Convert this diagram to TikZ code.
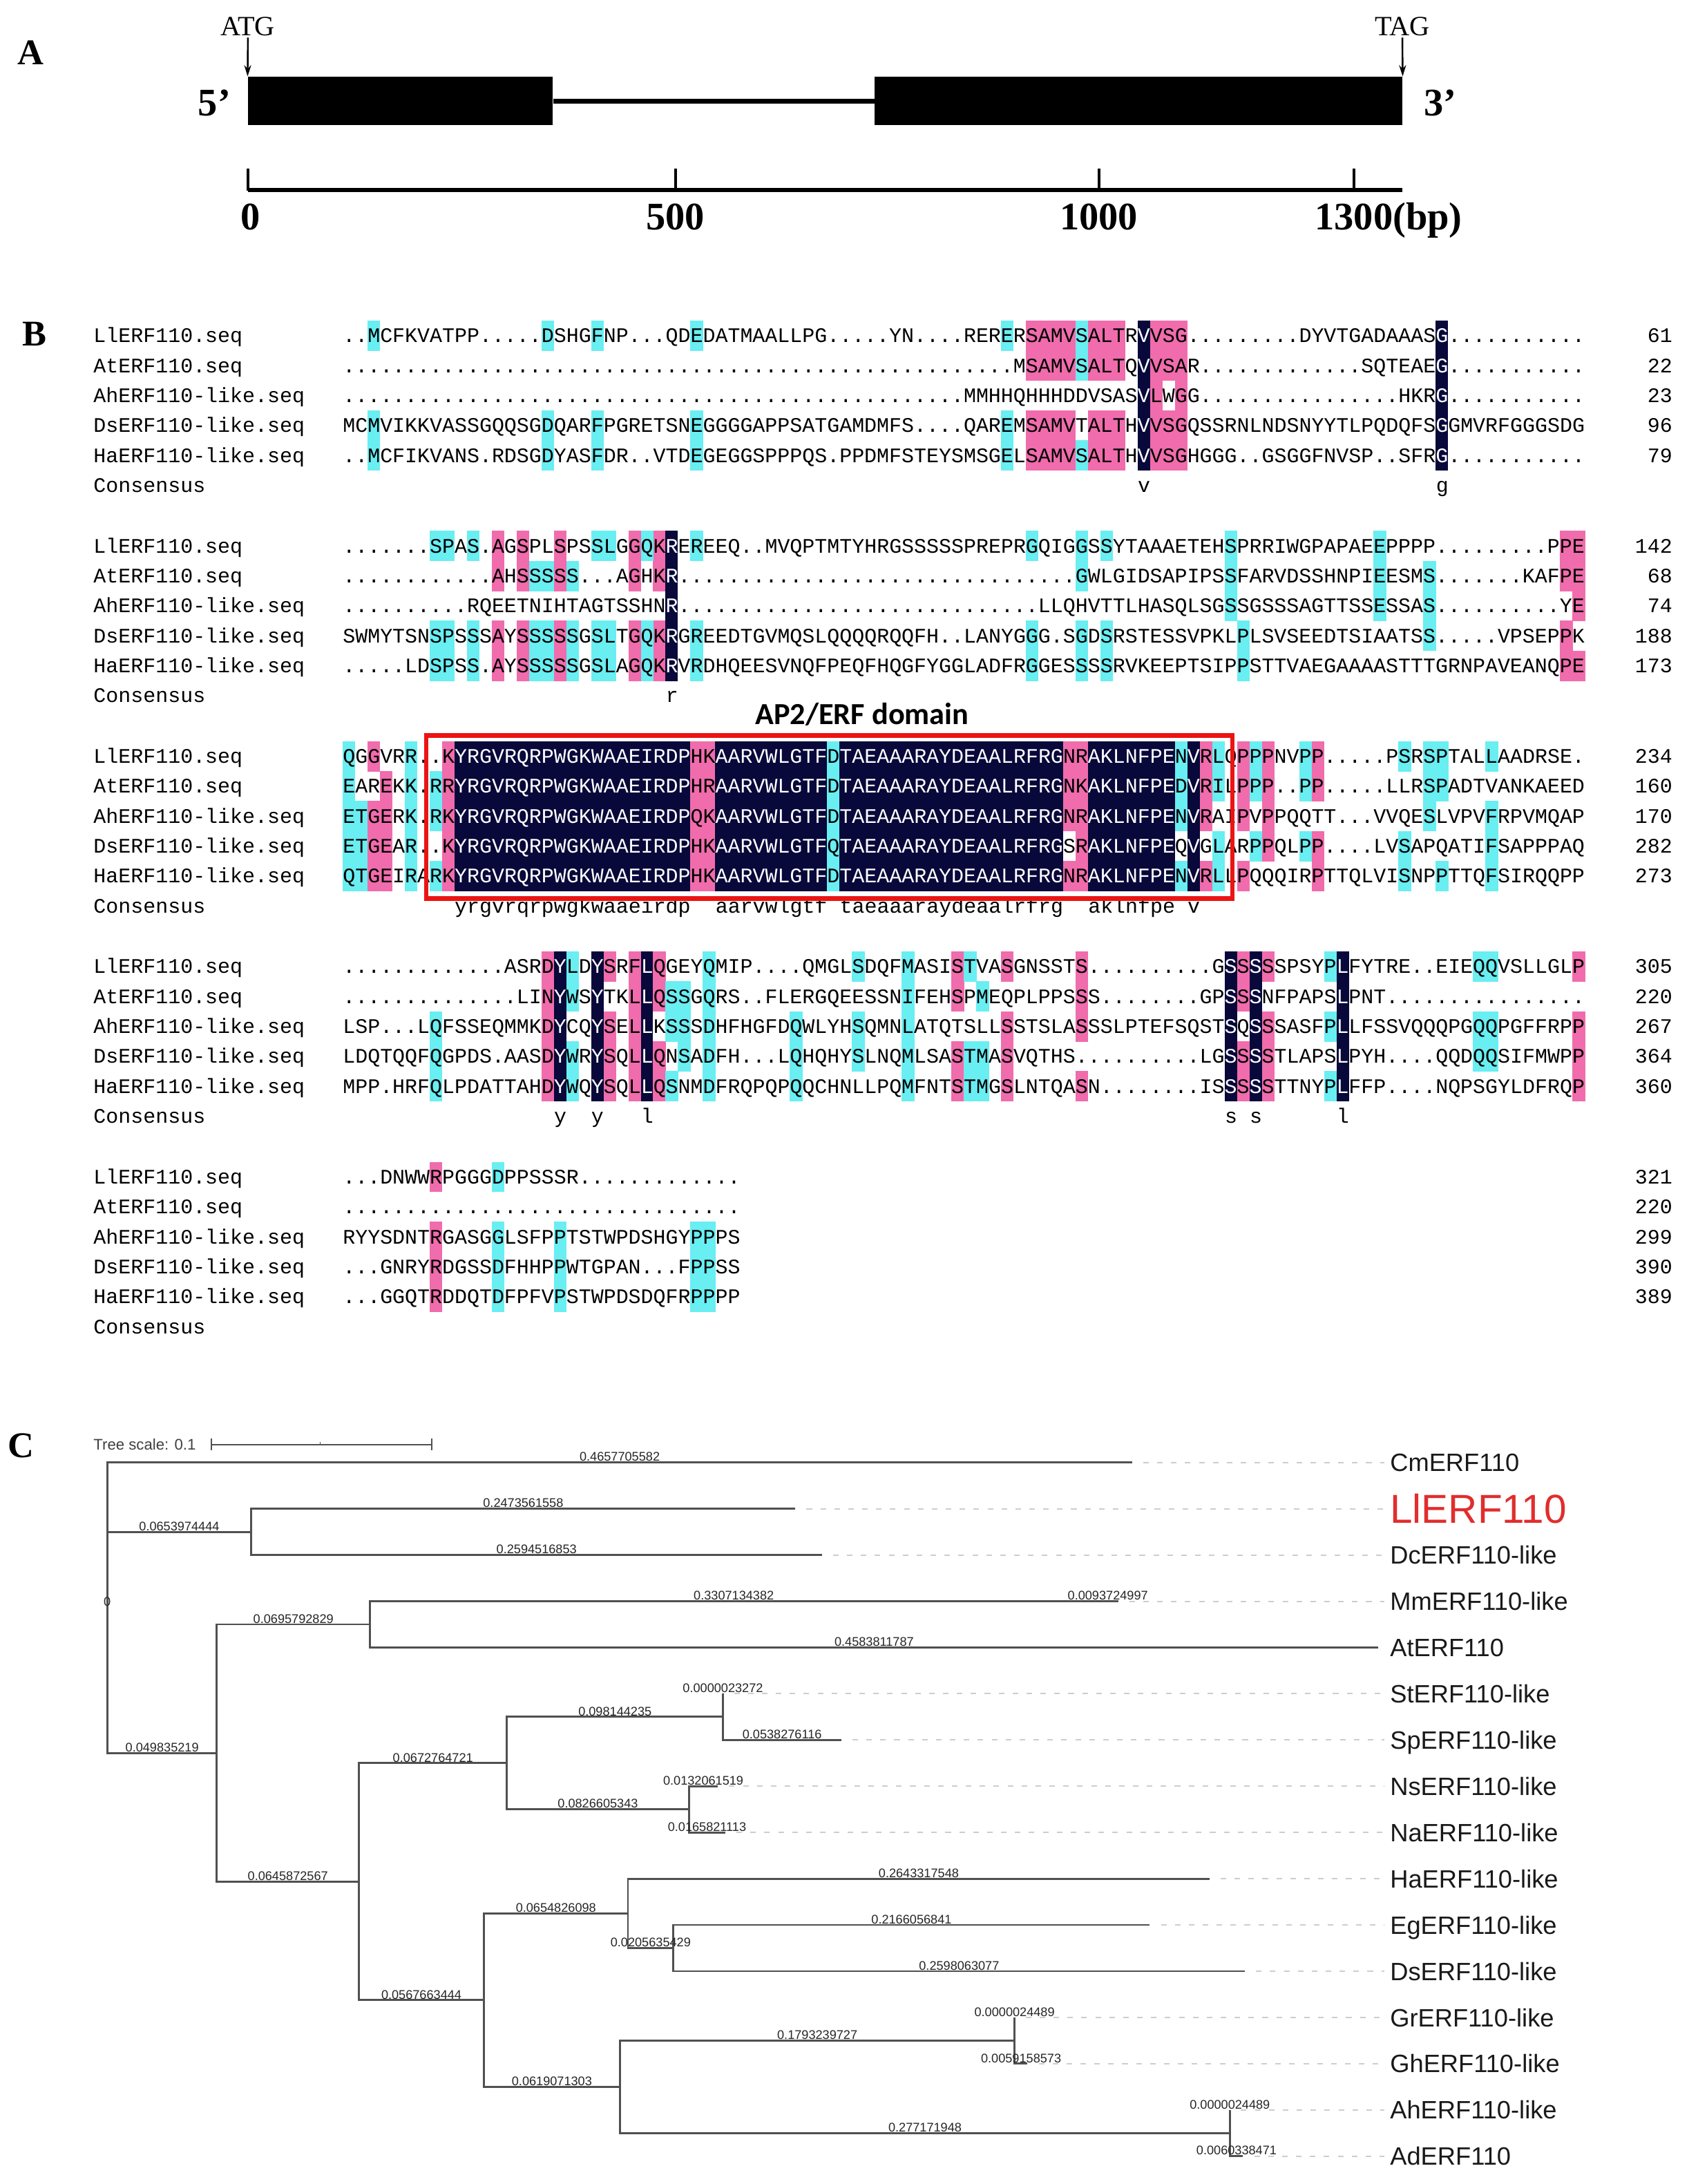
\documentclass[tikz,border=0pt]{standalone}
\usepackage{fontspec}
\setmainfont{Liberation Serif}
\newfontfamily\seqf{Liberation Mono}
\newfontfamily\arialf{Liberation Sans}
\newfontfamily\calf{Carlito}
\usetikzlibrary{arrows.meta}
\ExplSyntaxOn
\cs_new:Npn \dts #1 {\prg_replicate:nn{#1}{.}}
\ExplSyntaxOff
\definecolor{cyn}{RGB}{105,238,242}
\definecolor{pnk}{RGB}{240,108,172}
\definecolor{dkb}{RGB}{8,8,58}
\definecolor{trg}{RGB}{80,80,80}
\definecolor{dsh}{RGB}{205,205,205}
\definecolor{lred}{RGB}{225,45,45}
\definecolor{boxred}{RGB}{235,20,20}
\newcommand\W[1]{\textcolor{white}{#1}}
\tikzset{
  seq/.style={font=\seqf\fontsize{14.86pt}{16pt}\selectfont, inner sep=0pt, anchor=base west},
  plab/.style={font=\bfseries\fontsize{26pt}{28pt}\selectfont, inner sep=0pt},
  exon/.style={fill=black, draw=none, inner sep=0pt},
  codon/.style={font=\fontsize{20pt}{22pt}\selectfont, inner sep=1pt},
  endlab/.style={font=\bfseries\fontsize{28pt}{30pt}\selectfont, inner sep=0pt},
  axlab/.style={font=\bfseries\fontsize{28pt}{30pt}\selectfont, inner sep=0pt, anchor=base},
  br/.style={draw=trg, line width=1.4pt},
  lead/.style={draw=dsh, line width=1pt, dash pattern=on 4pt off 6pt, shorten <=8pt, shorten >=4pt},
  leaf/.style={font=\arialf\fontsize{18pt}{20pt}\selectfont, inner sep=0pt, anchor=base west, text=black!90},
  blab/.style={font=\arialf\fontsize{9pt}{10pt}\selectfont, inner sep=0.6pt, anchor=south, text=black!85},
}
\newcommand\rowY[2]{(241+151*(#1-1)+21.5*(#2-1))}
\newcommand\hlc[4]{\foreach \hcol in {#3}{\foreach \hrow in {#4}{\fill[#1] ({246+(\hcol-1)*8.92},{\rowY{#2}{\hrow}-10.9}) rectangle ({246+\hcol*8.92+0.25},{\rowY{#2}{\hrow}+10.9});}}}
\newcommand\dkc[3]{\fill[dkb] ({246+(#2-1)*8.92},{\rowY{#1}{1}-10.9}) rectangle ({246+#3*8.92},{\rowY{#1}{5}+10.9});}
\newcommand\seqrow[5]{\node[seq] (nm#1x#2) at (67,{\rowY{#1}{#2}+4.9}) {#3};\node[seq] (sq#1x#2) at (246,{\rowY{#1}{#2}+4.9}) {#4};\node[seq,anchor=base east] (nu#1x#2) at (1201,{\rowY{#1}{#2}+4.9}) {#5};}
\newcommand\mycons[4]{\node[seq] (#4) at ({246+(#2-1)*8.92},{\rowY{#1}{6}+4.9}) {#3};}
\newcommand\brl[4]{\node[blab] (#4) at (#1,#2) {#3};}
\begin{document}
\begin{tikzpicture}[x=1pt,y=-1pt]
\useasboundingbox (0,0) rectangle (1219,1568);
\fill[white] (0,0) rectangle (1219,1568);
% ---------- panel labels
\node[plab] (pA) at (22,38) {A};
\node[plab] (pB) at (25,240) {B};
\node[plab] (pC) at (15,1038) {C};
% ---------- Panel A: gene structure
\node[exon, minimum width=219pt, minimum height=35pt] (ex1) at (287.5,72.5) {};
\node[exon, minimum width=379pt, minimum height=35pt] (ex2) at (817.5,72.5) {};
\draw[line width=3.5pt] (ex1.east) -- (ex2.west);
\node[codon] (atg) at (178,19) {ATG};
\node[codon] (tag) at (1007,19) {TAG};
\draw[line width=1.2pt, -{Stealth[length=8pt,width=5pt]}] (atg.south) -- (ex1.north west);
\draw[line width=1.2pt, -{Stealth[length=8pt,width=5pt]}] (tag.south) -- (ex2.north east);
\node[endlab] (p5) at (154,74) {5’};
\node[endlab] (p3) at (1034,74) {3’};
\coordinate (ax0) at (178,136.5);
\coordinate (ax1) at (1007,136.5);
\draw[line width=3pt] (ax0) -- (ax1);
\foreach \tx in {178,485,789,972} {\draw[line width=2pt] (\tx,121) -- (\tx,137);}
\node[axlab] (a0) at (180,165) {0};
\node[axlab] (a500) at (485,165) {500};
\node[axlab] (a1000) at (789,165) {1000};
\node[axlab, anchor=base west] (a1300) at (944,165) {1300(bp)};
% ---------- Panel B: highlights
% block 1
\hlc{cyn}{1}{3,17,21,29,54}{1,4,5}
\hlc{pnk}{1}{56,57,58,59,61,62,63}{1,2,4,5}
\hlc{cyn}{1}{60}{1,2,5}
\hlc{pnk}{1}{66,68}{1,2,3,4,5}
\hlc{pnk}{1}{67}{1,2,4,5}
% block 2
\hlc{cyn}{2}{8,9,11}{1,4,5}
\hlc{pnk}{2}{13,15,18}{1,2,4,5}
\hlc{cyn}{2}{16,17,19}{2,4,5}
\hlc{cyn}{2}{21,22}{1,4,5}
\hlc{pnk}{2}{24,26}{1,2,4,5}
\hlc{cyn}{2}{25,29,56,62}{1,4,5}
\hlc{cyn}{2}{60}{1,2,4,5}
\hlc{cyn}{2}{72,84}{1,2,3}
\hlc{cyn}{2}{73}{4,5}
\hlc{cyn}{2}{88}{2,3,4}
\hlc{pnk}{2}{99}{1,2,4,5}
\hlc{pnk}{2}{100}{1,2,3,5}
% block 3
\hlc{cyn}{3}{1,6,40}{1,2,3,4,5}
\hlc{cyn}{3}{2}{3,4,5}
\hlc{pnk}{3}{3}{1,3,4,5}
\hlc{pnk}{3}{4}{2,3,4,5}
\hlc{cyn}{3}{8}{2,3,5}
\hlc{pnk}{3}{9,29,30,60}{1,2,3,4,5}
\hlc{pnk}{3}{59,70,73}{1,2,3,5}
\hlc{cyn}{3}{68}{1,2,3,5}
\hlc{cyn}{3}{71}{1,2,4,5}
\hlc{cyn}{3}{74,78}{1,2,4}
\hlc{pnk}{3}{75}{1,2,3,4}
\hlc{pnk}{3}{79}{1,2,4,5}
\hlc{cyn}{3}{86}{1,4,5}
\hlc{cyn}{3}{88}{1,2,3}
\hlc{cyn}{3}{89}{1,2,5}
\hlc{cyn}{3}{93}{1,3,4,5}
% block 4
\hlc{cyn}{4}{8,37}{3,4,5}
\hlc{pnk}{4}{17,24}{1,2,3,4,5}
\hlc{cyn}{4}{19}{1,2,4,5}
\hlc{pnk}{4}{22,54,75,100}{1,3,4,5}
\hlc{pnk}{4}{26,50,73}{1,2,4,5}
\hlc{cyn}{4}{27}{2,3,5}
\hlc{cyn}{4}{28}{2,3,4}
\hlc{cyn}{4}{30,46}{1,2,3,4,5}
\hlc{cyn}{4}{42,92,93}{1,3,4}
\hlc{cyn}{4}{51}{1,4,5}
\hlc{cyn}{4}{52}{2,4,5}
\hlc{pnk}{4}{60}{1,2,3,5}
\hlc{cyn}{4}{80}{1,3,5}
% block 5
\hlc{pnk}{5}{8}{1,3,4,5}
\hlc{cyn}{5}{13}{1,3,4,5}
\hlc{cyn}{5}{18,29,30}{3,4,5}
% ---------- fully conserved columns (dark)
\dkc{1}{65}{65}
\dkc{1}{89}{89}
\dkc{2}{27}{27}
\dkc{3}{10}{28}
\dkc{3}{31}{39}
\dkc{3}{41}{58}
\dkc{3}{61}{67}
\dkc{3}{69}{69}
\dkc{4}{18}{18}
\dkc{4}{21}{21}
\dkc{4}{25}{25}
\dkc{4}{72}{72}
\dkc{4}{74}{74}
\dkc{4}{81}{81}
% ---------- sequences
\seqrow{1}{1}{LlERF110.seq}{..MCFKVATPP\dts{5}DSHGFNP...QDEDATMAALLPG\dts{5}YN....RERERSAMVSALTR\W{V}VSG\dts{9}DYVTGADAAAS\W{G}\dts{11}}{61}
\seqrow{1}{2}{AtERF110.seq}{\dts{54}MSAMVSALTQ\W{V}VSAR\dts{13}SQTEAE\W{G}\dts{11}}{22}
\seqrow{1}{3}{AhERF110-like.seq}{\dts{50}MMHHQHHHDDVSAS\W{V}LWGG\dts{16}HKR\W{G}\dts{11}}{23}
\seqrow{1}{4}{DsERF110-like.seq}{MCMVIKKVASSGQQSGDQARFPGRETSNEGGGGAPPSATGAMDMFS....QAREMSAMVTALTH\W{V}VSGQSSRNLNDSNYYTLPQDQFS\W{G}GMVRFGGGSDG}{96}
\seqrow{1}{5}{HaERF110-like.seq}{..MCFIKVANS.RDSGDYASFDR..VTDEGEGGSPPPQS.PPDMFSTEYSMSGELSAMVSALTH\W{V}VSGHGGG..GSGGFNVSP..SFR\W{G}\dts{11}}{79}
\node[seq] (cn1) at (67,{\rowY{1}{6}+4.9}) {Consensus};
\seqrow{2}{1}{LlERF110.seq}{\dts{7}SPAS.AGSPLSPSSLGGQK\W{R}EREEQ..MVQPTMTYHRGSSSSSPREPRGQIGGSSYTAAAETEHSPRRIWGPAPAEEPPPP\dts{9}PPE}{142}
\seqrow{2}{2}{AtERF110.seq}{\dts{12}AHSSSSS...AGHK\W{R}\dts{32}GWLGIDSAPIPSSFARVDSSHNPIEESMS\dts{7}KAFPE}{68}
\seqrow{2}{3}{AhERF110-like.seq}{\dts{10}RQEETNIHTAGTSSHN\W{R}\dts{29}LLQHVTTLHASQLSGSSGSSSAGTTSSESSAS\dts{10}YE}{74}
\seqrow{2}{4}{DsERF110-like.seq}{SWMYTSNSPSSSAYSSSSSGSLTGQK\W{R}GREEDTGVMQSLQQQQRQQFH..LANYGGG.SGDSRSTESSVPKLPLSVSEEDTSIAATSS.....VPSEPPK}{188}
\seqrow{2}{5}{HaERF110-like.seq}{\dts{5}LDSPSS.AYSSSSSGSLAGQK\W{R}VRDHQEESVNQFPEQFHQGFYGGLADFRGGESSSSRVKEEPTSIPPSTTVAEGAAAASTTTGRNPAVEANQPE}{173}
\node[seq] (cn2) at (67,{\rowY{2}{6}+4.9}) {Consensus};
\seqrow{3}{1}{LlERF110.seq}{QGGVRR..K\W{YRGVRQRPWGKWAAEIRDP}HK\W{AARVWLGTF}D\W{TAEAAARAYDEAALRFRG}NR\W{AKLNFPE}N\W{V}RLQPPPNVPP.....PSRSPTALLAADRSE.}{234}
\seqrow{3}{2}{AtERF110.seq}{EAREKK.RR\W{YRGVRQRPWGKWAAEIRDP}HR\W{AARVWLGTF}D\W{TAEAAARAYDEAALRFRG}NK\W{AKLNFPE}D\W{V}RILPPP..PP.....LLRSPADTVANKAEED}{160}
\seqrow{3}{3}{AhERF110-like.seq}{ETGERK.RK\W{YRGVRQRPWGKWAAEIRDP}QK\W{AARVWLGTF}D\W{TAEAAARAYDEAALRFRG}NR\W{AKLNFPE}N\W{V}RAIPVPPQQTT...VVQESLVPVFRPVMQAP}{170}
\seqrow{3}{4}{DsERF110-like.seq}{ETGEAR..K\W{YRGVRQRPWGKWAAEIRDP}HK\W{AARVWLGTF}Q\W{TAEAAARAYDEAALRFRG}SR\W{AKLNFPE}Q\W{V}GLARPPQLPP....LVSAPQATIFSAPPPAQ}{282}
\seqrow{3}{5}{HaERF110-like.seq}{QTGEIRARK\W{YRGVRQRPWGKWAAEIRDP}HK\W{AARVWLGTF}D\W{TAEAAARAYDEAALRFRG}NR\W{AKLNFPE}N\W{V}RLLPQQQIRPTTQLVISNPPTTQFSIRQQPP}{273}
\node[seq] (cn3) at (67,{\rowY{3}{6}+4.9}) {Consensus};
\seqrow{4}{1}{LlERF110.seq}{\dts{13}ASRD\W{Y}LD\W{Y}SRF\W{L}QGEYQMIP....QMGLSDQFMASISTVASGNSSTS\dts{10}G\W{S}S\W{S}SSPSYP\W{L}FYTRE..EIEQQVSLLGLP}{305}
\seqrow{4}{2}{AtERF110.seq}{\dts{14}LIN\W{Y}WS\W{Y}TKL\W{L}QSSGQRS..FLERGQEESSNIFEHSPMEQPLPPSSS\dts{8}GP\W{S}S\W{S}NFPAPS\W{L}PNT\dts{16}}{220}
\seqrow{4}{3}{AhERF110-like.seq}{LSP...LQFSSEQMMKD\W{Y}CQ\W{Y}SEL\W{L}KSSSDHFHGFDQWLYHSQMNLATQTSLLSSTSLASSSLPTEFSQST\W{S}Q\W{S}SSASFP\W{L}LFSSVQQQPGQQPGFFRPP}{267}
\seqrow{4}{4}{DsERF110-like.seq}{LDQTQQFQGPDS.AASD\W{Y}WR\W{Y}SQL\W{L}QNSADFH...LQHQHYSLNQMLSASTMASVQTHS\dts{10}LG\W{S}S\W{S}STLAPS\W{L}PYH....QQDQQSIFMWPP}{364}
\seqrow{4}{5}{HaERF110-like.seq}{MPP.HRFQLPDATTAHD\W{Y}WQ\W{Y}SQL\W{L}QSNMDFRQPQPQQCHNLLPQMFNTSTMGSLNTQASN\dts{8}IS\W{S}S\W{S}STTNYP\W{L}FFP....NQPSGYLDFRQP}{360}
\node[seq] (cn4) at (67,{\rowY{4}{6}+4.9}) {Consensus};
\seqrow{5}{1}{LlERF110.seq}{...DNWWRPGGGDPPSSSR\dts{13}}{321}
\seqrow{5}{2}{AtERF110.seq}{\dts{32}}{220}
\seqrow{5}{3}{AhERF110-like.seq}{RYYSDNTRGASGGLSFPPTSTWPDSHGYPPPS}{299}
\seqrow{5}{4}{DsERF110-like.seq}{...GNRYRDGSSDFHHPPWTGPAN...FPPSS}{390}
\seqrow{5}{5}{HaERF110-like.seq}{...GGQTRDDQTDFPFVPSTWPDSDQFRPPPP}{389}
\node[seq] (cn5) at (67,{\rowY{5}{6}+4.9}) {Consensus};
% ---------- consensus letters
\mycons{1}{65}{v}{k1a}
\mycons{1}{89}{g}{k1b}
\mycons{2}{27}{r}{k2a}
\mycons{3}{10}{yrgvrqrpwgkwaaeirdp}{k3a}
\mycons{3}{31}{aarvwlgtf}{k3b}
\mycons{3}{41}{taeaaaraydeaalrfrg}{k3c}
\mycons{3}{61}{aklnfpe}{k3d}
\mycons{3}{69}{v}{k3e}
\mycons{4}{18}{y}{k4a}
\mycons{4}{21}{y}{k4b}
\mycons{4}{25}{l}{k4c}
\mycons{4}{72}{s}{k4d}
\mycons{4}{74}{s}{k4e}
\mycons{4}{81}{l}{k4f}
% ---------- AP2/ERF domain box
\node[font=\calf\bfseries\fontsize{22pt}{24pt}\selectfont, inner sep=0pt] (ap2) at (619,513) {AP2/ERF domain};
\draw[boxred, line width=3.2pt] (306,528) rectangle (885,645);
% ---------- Panel C: tree
\node[font=\arialf\fontsize{11pt}{12pt}\selectfont, text=black!75, inner sep=0pt, anchor=west] (tsl) at (67,1037) {Tree scale: 0.1};
\coordinate (sb0) at (152,1037);
\coordinate (sb1) at (310,1037);
\draw[trg, line width=1pt] (sb0) -- (sb1);
\draw[trg, line width=1pt] (152,1033) -- (152,1041);
\draw[trg, line width=1pt] (310,1033) -- (310,1041);
\draw[trg, line width=0.8pt] (230,1035) -- (230,1037);
\coordinate (tr) at (77,1154.25);
\coordinate (tn1) at (180.3,1099.8);
\coordinate (tn2) at (155.7,1258.5);
\coordinate (tn3) at (265.6,1166.2);
\coordinate (tn4) at (257.7,1350.9);
\coordinate (tn5) at (364.0,1265.8);
\coordinate (tn6) at (519.1,1232.6);
\coordinate (tn7) at (494.6,1299.0);
\coordinate (tn8) at (347.4,1435.95);
\coordinate (tn9) at (450.9,1373.7);
\coordinate (tn10) at (483.4,1398.6);
\coordinate (tn11) at (445.2,1498.2);
\coordinate (tn12) at (728.5,1465.0);
\coordinate (tn13) at (883.1,1531.4);
\coordinate (lCm) at (812.9,1050);
\coordinate (lLl) at (571.1,1083.2);
\coordinate (lDc) at (590.2,1116.4);
\coordinate (lMm) at (802.9,1149.6);
\coordinate (lAt) at (989.8,1182.8);
\coordinate (lSt) at (519.1,1216);
\coordinate (lSp) at (604.1,1249.2);
\coordinate (lNs) at (515.5,1282.4);
\coordinate (lNa) at (520.8,1315.6);
\coordinate (lHa) at (868.5,1348.8);
\coordinate (lEg) at (825.6,1382);
\coordinate (lDs) at (893.9,1415.2);
\coordinate (lGr) at (728.5,1448.4);
\coordinate (lGh) at (737.8,1481.6);
\coordinate (lAh) at (883.1,1514.8);
\coordinate (lAd) at (892.6,1548);
\draw[br] (tr) |- (lCm);
\draw[br] (tr) |- (tn1);
\draw[br] (tr) |- (tn2);
\draw[br] (tn1) |- (lLl);
\draw[br] (tn1) |- (lDc);
\draw[br] (tn2) |- (tn3);
\draw[br] (tn2) |- (tn4);
\draw[br] (tn3) |- (lMm);
\draw[br] (tn3) |- (lAt);
\draw[br] (tn4) |- (tn5);
\draw[br] (tn4) |- (tn8);
\draw[br] (tn5) |- (tn6);
\draw[br] (tn5) |- (tn7);
\draw[br] (tn6) |- (lSt);
\draw[br] (tn6) |- (lSp);
\draw[br] (tn7) |- (lNs);
\draw[br] (tn7) |- (lNa);
\draw[br] (tn8) |- (tn9);
\draw[br] (tn8) |- (tn11);
\draw[br] (tn9) |- (lHa);
\draw[br] (tn9) |- (tn10);
\draw[br] (tn10) |- (lEg);
\draw[br] (tn10) |- (lDs);
\draw[br] (tn11) |- (tn12);
\draw[br] (tn11) |- (tn13);
\draw[br] (tn12) |- (lGr);
\draw[br] (tn12) |- (lGh);
\draw[br] (tn13) |- (lAh);
\draw[br] (tn13) |- (lAd);
% leaf labels
\node[leaf] (tCm) at (998,1056.5) {CmERF110};
\node[leaf, font=\arialf\fontsize{29pt}{31pt}\selectfont, text=lred] (tLl) at (998,1093.6) {LlERF110};
\node[leaf] (tDc) at (998,1122.9) {DcERF110-like};
\node[leaf] (tMm) at (998,1156.1) {MmERF110-like};
\node[leaf] (tAt) at (998,1189.3) {AtERF110};
\node[leaf] (tSt) at (998,1222.5) {StERF110-like};
\node[leaf] (tSp) at (998,1255.7) {SpERF110-like};
\node[leaf] (tNs) at (998,1288.9) {NsERF110-like};
\node[leaf] (tNa) at (998,1322.1) {NaERF110-like};
\node[leaf] (tHa) at (998,1355.3) {HaERF110-like};
\node[leaf] (tEg) at (998,1388.5) {EgERF110-like};
\node[leaf] (tDs) at (998,1421.7) {DsERF110-like};
\node[leaf] (tGr) at (998,1454.9) {GrERF110-like};
\node[leaf] (tGh) at (998,1488.1) {GhERF110-like};
\node[leaf] (tAh) at (998,1521.3) {AhERF110-like};
\node[leaf] (tAd) at (998,1554.5) {AdERF110};
\foreach \lf in {Cm,Ll,Dc,Mm,St,Sp,Ns,Na,Ha,Eg,Ds,Gr,Gh,Ah,Ad} {\draw[lead] (l\lf) -- (l\lf -| t\lf.west);}
% branch lengths
\brl{445}{1050}{0.4657705582}{b1}
\brl{128.7}{1099.8}{0.0653974444}{b2}
\brl{375.7}{1083.2}{0.2473561558}{b3}
\brl{385.3}{1116.4}{0.2594516853}{b4}
\brl{116.4}{1258.5}{0.049835219}{b5}
\brl{210.7}{1166.2}{0.0695792829}{b6}
\brl{526.9}{1149.6}{0.3307134382}{b7}
\brl{795.5}{1149.6}{0.0093724997}{b8}
\brl{627.7}{1182.8}{0.4583811787}{b9}
\brl{206.7}{1350.9}{0.0645872567}{b10}
\brl{310.9}{1265.8}{0.0672764721}{b11}
\brl{441.6}{1232.6}{0.098144235}{b12}
\brl{519.1}{1216}{0.0000023272}{b13}
\brl{561.6}{1249.2}{0.0538276116}{b14}
\brl{429.3}{1299.0}{0.0826605343}{b15}
\brl{505}{1282.4}{0.0132061519}{b16}
\brl{507.7}{1315.6}{0.0165821113}{b17}
\brl{302.6}{1435.95}{0.0567663444}{b18}
\brl{399.2}{1373.7}{0.0654826098}{b19}
\brl{659.7}{1348.8}{0.2643317548}{b20}
\brl{467.2}{1398.6}{0.0205635429}{b21}
\brl{654.5}{1382}{0.2166056841}{b22}
\brl{688.7}{1415.2}{0.2598063077}{b23}
\brl{396.3}{1498.2}{0.0619071303}{b24}
\brl{586.9}{1465.0}{0.1793239727}{b25}
\brl{728.5}{1448.4}{0.0000024489}{b26}
\brl{733.2}{1481.6}{0.0059158573}{b27}
\brl{664.2}{1531.4}{0.277171948}{b28}
\brl{883.1}{1514.8}{0.0000024489}{b29}
\brl{887.9}{1548}{0.0060338471}{b30}
\node[blab, anchor=center] (b0) at (77,1150) {0};
\end{tikzpicture}
\end{document}
